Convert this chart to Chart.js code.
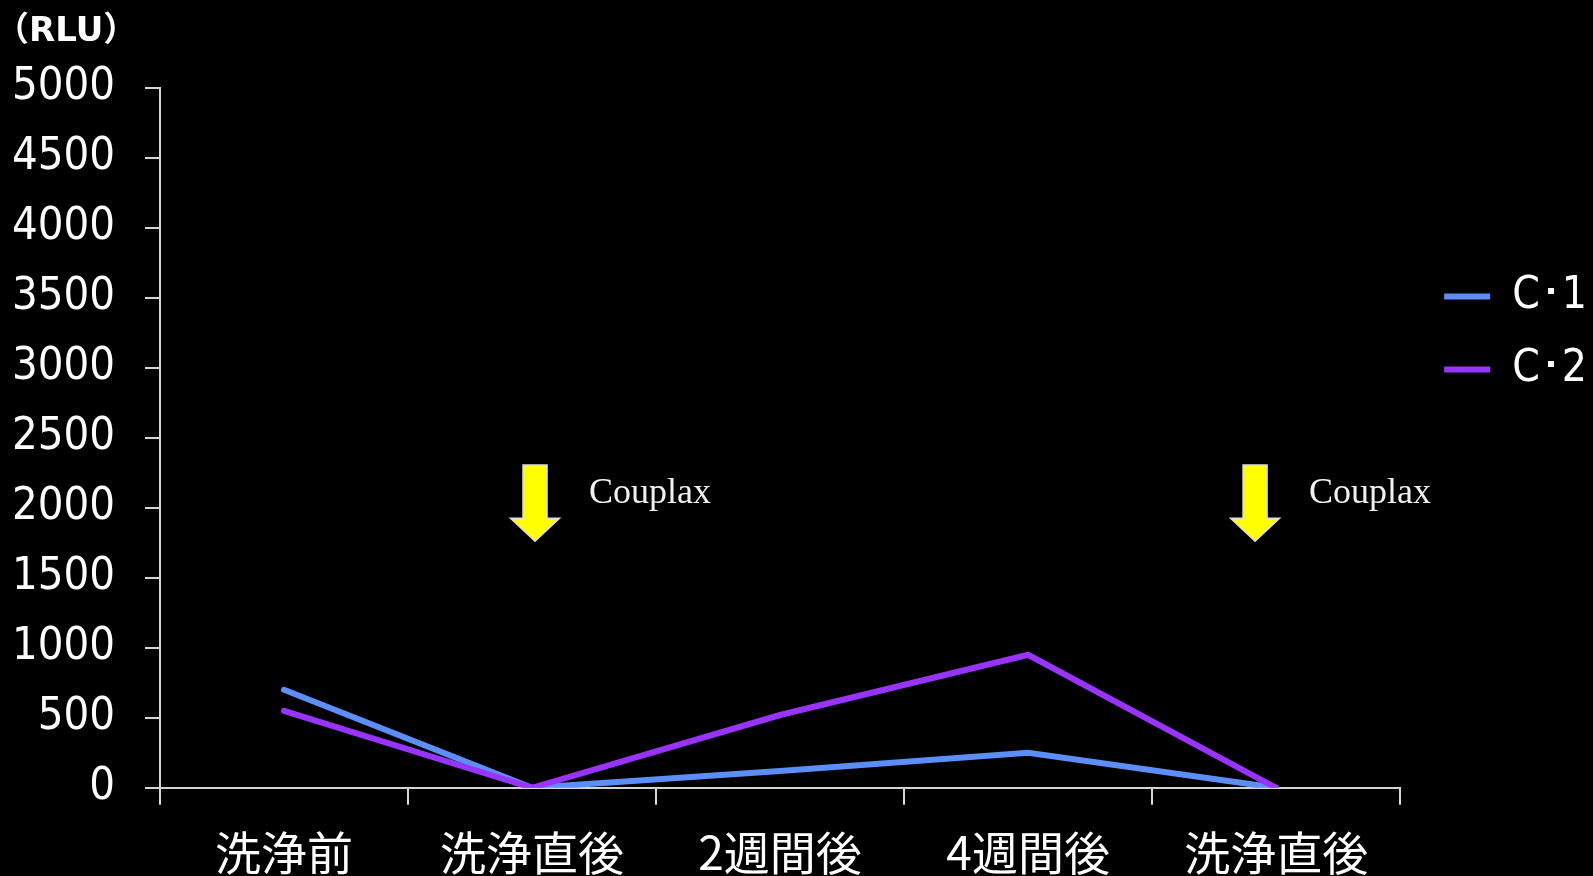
<!DOCTYPE html>
<html>
<head>
<meta charset="utf-8">
<script src="https://cdn.jsdelivr.net/npm/chart.js@4.4.0/dist/chart.umd.min.js"></script>
<style>
  html, body { margin: 0; padding: 0; background: #000; }
  #wrap { width: 1593px; height: 876px; }
</style>
</head>
<body>
<div id="wrap"><canvas id="chart" width="1593" height="876"></canvas></div>
<script>
const categories = ['洗浄前', '洗浄直後', '2週間後', '4週間後', '洗浄直後']
const seriesNames = ['C･1', 'C･2']
const c1Values = [700, 0, 120, 250, 0]
const c2Values = [550, 0, 520, 950, 0]
const yTickValues = [0, 500, 1000, 1500, 2000, 2500, 3000, 3500, 4000, 4500, 5000]
const markerLabels = ['Couplax', 'Couplax']

const FONT = '"DejaVu Sans Condensed", "DejaVu Sans", sans-serif'
const CJK = '"Noto Sans CJK JP", sans-serif'
const AXIS = '#d4d4d4'

// yellow down arrows with the "Couplax" note beside them
const couplaxPlugin = {
    id: 'couplax',
    afterDatasetsDraw(chart, args, opts) {
        const { ctx } = chart
        const x = chart.scales.x
        const y = chart.scales.y
        opts.marks.forEach((m, i) => {
            const cx = x.getPixelForValue(m.at)
            const top = y.getPixelForValue(m.from)
            const tip = y.getPixelForValue(m.to)
            const headTop = tip - opts.headLength
            ctx.save()
            ctx.beginPath()
            ctx.moveTo(cx - opts.shaft / 2, top)
            ctx.lineTo(cx + opts.shaft / 2, top)
            ctx.lineTo(cx + opts.shaft / 2, headTop)
            ctx.lineTo(cx + opts.head / 2, headTop)
            ctx.lineTo(cx, tip)
            ctx.lineTo(cx - opts.head / 2, headTop)
            ctx.lineTo(cx - opts.shaft / 2, headTop)
            ctx.closePath()
            ctx.fillStyle = '#ffff00'
            ctx.fill()
            ctx.strokeStyle = '#dcdcdc'
            ctx.lineWidth = 1.5
            ctx.stroke()

            ctx.fillStyle = '#f0f0f0'
            ctx.font = '36px "Liberation Serif", serif'
            ctx.textAlign = 'left'
            ctx.textBaseline = 'middle'
            ctx.fillText(markerLabels[i], cx + opts.textOffset, y.getPixelForValue(m.textAt))
            ctx.restore()
        })
    },
}

// push the legend a little away from the plot
const legendShift = {
    id: 'legendShift',
    afterLayout(chart, args, opts) {
        chart.legend.left += opts.dx
        chart.legend.right += opts.dx
    },
}

const ctx = document.getElementById('chart').getContext('2d')
const chart = new Chart(ctx, {
    type: 'line',
    data: {
        labels: categories,
        datasets: [
            {
                label: seriesNames[0],
                data: c1Values,
                borderColor: '#5b8ef7',
                backgroundColor: '#5b8ef7',
                borderWidth: 6,
                borderCapStyle: 'round',
                pointRadius: 0,
                tension: 0,
                order: 1,
            },
            {
                label: seriesNames[1],
                data: c2Values,
                borderColor: '#9933ff',
                backgroundColor: '#9933ff',
                borderWidth: 6,
                borderCapStyle: 'round',
                pointRadius: 0,
                tension: 0,
                order: 0,
            },
        ],
    },
    options: {
        responsive: false,
        animation: false,
        layout: { padding: { left: -5, right: 11, top: 0, bottom: -24 } },
        scales: {
            x: {
                offset: true,
                grid: {
                    offset: true,
                    drawOnChartArea: false,
                    color: AXIS,
                    lineWidth: 2,
                    tickLength: 17,
                },
                border: { color: AXIS, width: 2 },
                ticks: {
                    color: '#ffffff',
                    font: { family: CJK, size: 46 },
                    padding: 20,
                    maxRotation: 0,
                    autoSkip: false,
                },
            },
            y: {
                min: 0,
                max: 5000,
                afterBuildTicks: axis => {
                    axis.ticks = yTickValues.map(v => ({ value: v }))
                },
                afterFit: axis => {
                    axis.width = 165
                },
                grid: {
                    drawOnChartArea: false,
                    color: AXIS,
                    lineWidth: 2,
                    tickLength: 15,
                },
                border: { color: AXIS, width: 2 },
                ticks: {
                    color: '#ffffff',
                    font: { family: FONT, size: 45 },
                    padding: 30,
                    callback: value => String(value),
                },
            },
        },
        plugins: {
            title: {
                display: true,
                text: '（RLU）',
                align: 'start',
                color: '#ffffff',
                font: { family: '"DejaVu Sans", "Noto Sans CJK JP", sans-serif', size: 34, weight: 'bold' },
                padding: { top: 12, bottom: 35 },
            },
            legend: {
                position: 'right',
                align: 'start',
                title: { display: true, text: '', font: { size: 12 }, padding: { top: 231, bottom: 0 } },
                labels: {
                    color: '#ffffff',
                    font: { family: FONT, size: 44 },
                    usePointStyle: true,
                    pointStyle: 'line',
                    pointStyleWidth: 46,
                    padding: 29,
                    sort: (a, b) => a.datasetIndex - b.datasetIndex,
                },
            },
            tooltip: { enabled: false },
            couplax: {
                shaft: 24,
                head: 49,
                headLength: 23,
                textOffset: 54,
                marks: [
                    { at: 1.012, from: 2305, to: 1761, textAt: 2104 },
                    { at: 3.915, from: 2305, to: 1761, textAt: 2104 },
                ],
            },
            legendShift: { dx: 15 },
        },
    },
    plugins: [couplaxPlugin, legendShift],
})
</script>
</body>
</html>
